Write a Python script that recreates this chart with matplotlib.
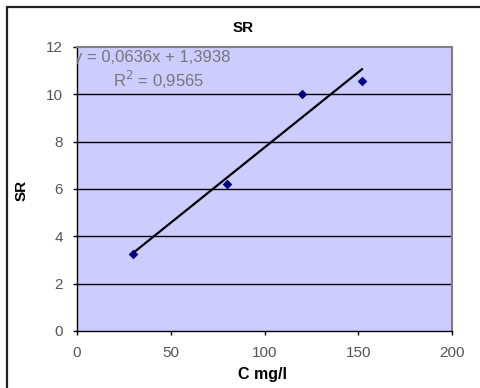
import matplotlib
matplotlib.use("Agg")
import matplotlib.pyplot as plt
from matplotlib.patches import Rectangle
import numpy as np

plt.rcParams['font.family'] = ['Liberation Sans', 'DejaVu Sans']

conc = [30, 80, 120, 152]
sr = [3.25, 6.2, 10.0, 10.55]
slope = 0.0636
intercept = 1.3938
r2 = 0.9565
eq_text = "y = 0,0636x + 1,3938"
r2_text = "R$^{2}$ = 0,9565"
xticks = [0, 50, 100, 150, 200]
yticks = [0, 2, 4, 6, 8, 10, 12]

W, H = 481, 388
fig = plt.figure(figsize=(W / 100, H / 100), dpi=100)
fig.patch.set_facecolor('white')

# chart-area border (left/top visible)
fig.patches.append(Rectangle((7 / W, -0.05), 1.2, (388 - 7) / H + 0.05,
                             transform=fig.transFigure, fill=False,
                             edgecolor='#222222', linewidth=1.6))

ax = fig.add_axes([77 / W, 1 - 331 / H, 375 / W, 284 / H])
ax.set_facecolor('#CCCCFF')
ax.set_xlim(0, 200)
ax.set_ylim(0, 12)
ax.set_xticks(xticks)
ax.set_yticks(yticks)
for y in yticks[1:-1]:
    ax.axhline(y, color='black', linewidth=1.0, zorder=1)

xs = np.array([min(conc), max(conc)])
ax.plot(xs, slope * xs + intercept, color='black', linewidth=1.6, zorder=2)
ax.scatter(conc, sr, marker='D', s=24, color='#000080', zorder=3, linewidths=0)

for s in ['left', 'bottom']:
    ax.spines[s].set_color('black')
    ax.spines[s].set_linewidth(1.0)
for s in ['top', 'right']:
    ax.spines[s].set_color('#808080')
    ax.spines[s].set_linewidth(1.5)

ax.tick_params(axis='both', direction='out', length=3, width=1,
               labelsize=11, labelcolor='#555555', color='black')
ax.tick_params(axis='x', pad=8)
ax.tick_params(axis='y', pad=7)

ax.text(-0.008, 0.963, eq_text, transform=ax.transAxes, fontsize=12,
        color='#777777', ha='left', va='center', clip_on=True)
ax.text(0.096, 0.884, r2_text, transform=ax.transAxes, fontsize=12,
        color='#777777', ha='left', va='center')

fig.text(243 / W, 1 - 28 / H, "SR", ha='center', va='center',
         fontsize=11, fontweight='bold')
fig.text(22 / W, 1 - 190 / H, "SR", ha='center', va='center',
         fontsize=11, fontweight='bold', rotation=90)
fig.text(262 / W, 1 - 375 / H, "C mg/l", ha='center', va='center',
         fontsize=11.5, fontweight='bold')

fig.savefig("out.png", dpi=100)
